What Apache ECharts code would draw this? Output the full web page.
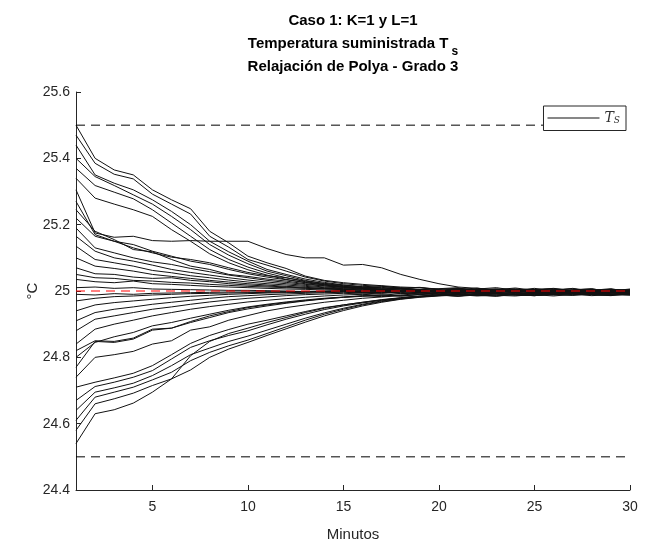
<!DOCTYPE html>
<html>
<head>
<meta charset="utf-8">
<title>Caso 1: K=1 y L=1</title>
<script src="https://cdn.jsdelivr.net/npm/echarts@6/dist/echarts.min.js"></script>
<style>
  html, body { margin: 0; padding: 0; background: #fff; }
  #chart { width: 650px; height: 547px; }
</style>
</head>
<body>
<div id="chart"></div>
<script>
// minutos 1..30
const tiempos = [1, 2, 3, 4, 5, 6, 7, 8, 9, 10, 11, 12, 13, 14, 15, 16, 17, 18, 19, 20, 21, 22, 23, 24, 25, 26, 27, 28, 29, 30]
const ticksX = [5, 10, 15, 20, 25, 30]
const limites = [25.5, 24.5]
const referencia = 25

// temperatura suministrada Ts, una trayectoria por condicion inicial
const trayectorias = [
  [25.500,25.400,25.365,25.350,25.305,25.275,25.248,25.180,25.145,25.105,25.085,25.068,25.045,25.032,25.025,25.020,25.016,25.012,25.010,25.006,25.008,25.003,25.006,24.998,25.004,25.008,25.001,24.995,25.005,25.002],
  [25.470,25.385,25.352,25.338,25.292,25.262,25.232,25.165,25.132,25.095,25.078,25.060,25.042,25.030,25.022,25.017,25.014,25.009,25.011,25.004,24.996,25.006,25.010,25.002,24.993,25.004,25.007,24.998,25.000,25.006],
  [25.440,25.350,25.325,25.305,25.275,25.240,25.200,25.150,25.118,25.090,25.065,25.050,25.036,25.026,25.018,25.013,25.015,25.008,25.004,25.007,25.010,24.997,25.004,25.009,25.002,24.994,25.003,25.007,24.996,25.001],
  [25.400,25.345,25.318,25.290,25.262,25.225,25.185,25.140,25.108,25.082,25.060,25.046,25.032,25.022,25.016,25.012,25.008,25.010,25.003,25.001,25.007,25.004,24.995,25.002,25.008,25.000,24.993,25.004,25.003,24.996],
  [25.370,25.318,25.298,25.278,25.245,25.205,25.165,25.125,25.095,25.072,25.054,25.040,25.028,25.020,25.014,25.009,25.011,25.006,25.002,24.998,25.004,25.009,25.001,24.994,25.005,25.006,24.998,25.002,25.007,24.997],
  [25.340,25.280,25.262,25.245,25.225,25.185,25.150,25.112,25.085,25.064,25.048,25.035,25.025,25.018,25.012,25.008,25.004,25.007,25.001,25.003,24.996,25.002,25.006,25.004,24.997,25.001,25.008,25.000,24.995,25.002],
  [25.305,25.175,25.162,25.165,25.152,25.150,25.152,25.150,25.150,25.150,25.128,25.110,25.100,25.100,25.078,25.080,25.070,25.050,25.035,25.022,25.012,25.008,25.004,25.006,25.001,24.998,25.004,25.006,25.000,25.003],
  [25.270,25.170,25.150,25.130,25.115,25.102,25.095,25.085,25.070,25.056,25.046,25.040,25.030,25.023,25.018,25.012,25.009,25.006,25.010,25.003,24.999,25.005,25.002,24.996,25.003,25.007,25.001,24.997,25.004,25.000],
  [25.245,25.180,25.155,25.125,25.118,25.095,25.075,25.065,25.050,25.044,25.036,25.030,25.022,25.016,25.011,25.008,25.004,25.007,25.001,24.996,25.002,25.006,24.999,25.003,25.005,24.996,25.001,25.005,24.999,24.997],
  [25.220,25.165,25.150,25.140,25.120,25.105,25.090,25.080,25.065,25.052,25.042,25.034,25.026,25.019,25.014,25.010,25.006,25.003,25.005,25.000,25.004,24.997,25.002,25.006,24.998,25.003,24.995,25.002,25.005,25.000],
  [25.190,25.130,25.115,25.100,25.088,25.080,25.068,25.058,25.048,25.040,25.032,25.026,25.020,25.015,25.011,25.008,25.005,25.002,24.999,25.003,25.006,25.000,24.996,25.001,25.004,25.002,24.998,24.996,25.002,25.004],
  [25.165,25.120,25.100,25.090,25.078,25.065,25.056,25.048,25.040,25.033,25.027,25.022,25.017,25.012,25.009,25.006,25.003,25.000,25.004,25.001,24.997,24.999,25.004,25.001,24.995,25.000,25.003,25.001,24.997,25.002],
  [25.135,25.095,25.085,25.075,25.062,25.055,25.046,25.040,25.033,25.027,25.022,25.018,25.014,25.010,25.007,25.005,25.002,24.999,25.001,24.997,25.002,25.004,24.998,24.996,25.001,25.004,24.999,25.002,25.001,24.996],
  [25.100,25.075,25.068,25.060,25.050,25.044,25.038,25.032,25.027,25.022,25.018,25.014,25.011,25.008,25.006,25.003,25.000,25.002,24.998,24.996,25.000,25.003,25.001,24.997,24.999,25.002,25.000,24.996,25.001,25.003],
  [25.070,25.052,25.050,25.042,25.038,25.040,25.032,25.028,25.022,25.018,25.015,25.012,25.009,25.007,25.005,25.002,24.999,24.997,25.000,25.002,24.998,24.995,25.001,25.003,24.999,24.997,25.002,25.000,24.998,25.001],
  [25.050,25.040,25.038,25.032,25.030,25.026,25.024,25.020,25.017,25.014,25.012,25.010,25.008,25.006,25.004,25.002,25.003,25.000,24.997,25.001,25.003,24.999,24.997,25.002,25.000,24.996,25.000,25.003,25.001,24.998],
  [25.035,25.028,25.025,25.030,25.022,25.020,25.017,25.014,25.012,25.010,25.008,25.006,25.005,25.003,25.002,24.999,25.001,24.998,24.995,24.999,25.001,24.998,24.996,25.000,25.002,24.998,24.996,25.001,25.002,24.999],
  [25.010,25.012,25.008,25.010,25.006,25.005,25.004,25.003,25.002,25.002,25.001,25.000,24.998,24.999,25.001,24.997,24.995,24.999,25.001,24.998,24.996,25.000,25.002,24.999,24.997,24.999,25.001,24.998,24.997,25.000],
  [24.990,24.988,24.992,24.990,24.993,24.994,24.995,24.996,24.997,24.997,24.998,24.998,24.999,24.999,25.000,24.998,25.001,24.999,24.996,25.000,25.002,24.999,24.997,25.000,25.001,24.998,24.997,25.000,25.001,24.999],
  [24.970,24.978,24.983,24.985,24.988,24.990,24.992,24.993,24.994,24.995,24.996,24.997,24.998,24.998,24.999,24.996,24.999,25.001,24.998,24.995,24.999,25.002,24.999,24.996,24.998,25.001,24.999,24.996,24.999,25.001],
  [24.940,24.958,24.965,24.970,24.975,24.980,24.984,24.987,24.990,24.992,24.994,24.995,24.996,24.997,24.998,24.995,24.993,24.997,25.000,24.997,24.994,24.998,25.001,24.998,24.995,24.999,25.001,24.997,24.995,24.998],
  [24.910,24.935,24.945,24.952,24.960,24.966,24.972,24.978,24.983,24.986,24.989,24.991,24.993,24.995,24.996,24.994,24.997,24.992,24.995,24.999,24.996,24.992,24.997,25.000,24.996,24.993,24.998,25.000,24.996,24.994],
  [24.880,24.915,24.925,24.935,24.945,24.952,24.960,24.967,24.973,24.978,24.982,24.986,24.989,24.991,24.993,24.991,24.994,24.996,24.991,24.994,24.998,24.995,24.991,24.996,24.999,24.995,24.992,24.997,24.999,24.995],
  [24.840,24.885,24.900,24.912,24.925,24.935,24.945,24.953,24.960,24.967,24.972,24.977,24.981,24.985,24.988,24.990,24.987,24.992,24.995,24.990,24.993,24.997,24.993,24.990,24.995,24.998,24.994,24.991,24.996,24.998],
  [24.820,24.850,24.848,24.858,24.885,24.888,24.905,24.920,24.935,24.946,24.955,24.963,24.970,24.976,24.981,24.985,24.988,24.985,24.990,24.994,24.989,24.992,24.996,24.992,24.989,24.994,24.997,24.993,24.990,24.995],
  [24.800,24.845,24.862,24.875,24.895,24.905,24.918,24.930,24.942,24.952,24.960,24.967,24.973,24.978,24.982,24.986,24.983,24.988,24.992,24.988,24.991,24.995,24.991,24.988,24.993,24.996,24.992,24.989,24.994,24.997],
  [24.770,24.848,24.845,24.855,24.882,24.888,24.908,24.925,24.938,24.950,24.958,24.965,24.971,24.977,24.981,24.984,24.988,24.985,24.989,24.993,24.990,24.987,24.992,24.995,24.991,24.988,24.993,24.996,24.992,24.990],
  [24.740,24.800,24.808,24.818,24.840,24.850,24.882,24.892,24.912,24.926,24.940,24.950,24.958,24.966,24.972,24.978,24.982,24.986,24.983,24.988,24.992,24.988,24.985,24.990,24.994,24.990,24.987,24.992,24.995,24.991],
  [24.710,24.725,24.738,24.752,24.775,24.808,24.842,24.866,24.884,24.900,24.912,24.925,24.938,24.950,24.958,24.966,24.974,24.980,24.985,24.988,24.984,24.988,24.992,24.989,24.986,24.991,24.994,24.990,24.988,24.993],
  [24.670,24.712,24.725,24.740,24.760,24.795,24.830,24.850,24.866,24.880,24.898,24.915,24.930,24.944,24.955,24.964,24.972,24.978,24.984,24.987,24.991,24.987,24.984,24.990,24.993,24.989,24.987,24.992,24.994,24.990],
  [24.640,24.695,24.708,24.722,24.745,24.775,24.808,24.828,24.848,24.864,24.882,24.900,24.918,24.934,24.948,24.960,24.970,24.977,24.983,24.987,24.985,24.990,24.993,24.988,24.986,24.991,24.993,24.989,24.986,24.992],
  [24.610,24.680,24.695,24.710,24.732,24.755,24.790,24.815,24.835,24.852,24.872,24.892,24.912,24.930,24.945,24.958,24.968,24.976,24.982,24.986,24.989,24.985,24.988,24.992,24.989,24.985,24.990,24.993,24.989,24.987],
  [24.580,24.660,24.675,24.692,24.715,24.735,24.762,24.800,24.825,24.845,24.866,24.886,24.906,24.925,24.941,24.955,24.966,24.975,24.981,24.985,24.988,24.991,24.987,24.985,24.990,24.993,24.990,24.986,24.989,24.992],
  [24.540,24.630,24.642,24.662,24.695,24.735,24.805,24.848,24.872,24.888,24.905,24.920,24.935,24.948,24.958,24.966,24.973,24.979,24.984,24.988,24.985,24.989,24.992,24.988,24.986,24.990,24.993,24.989,24.987,24.991]
]

const fuente = "'Liberation Sans', Arial, Helvetica, sans-serif"
const serif = "'DejaVu Serif', 'Liberation Serif', serif"
const gris = '#262626'
const xIni = tiempos[0]
const xFin = tiempos[tiempos.length - 1]

const chart = echarts.init(document.getElementById('chart'), null, { renderer: 'canvas' })

const seriesTs = trayectorias.map(fila => ({
  type: 'line',
  name: 'Ts',
  data: tiempos.map((t, i) => [t, fila[i]]),
  symbol: 'none',
  silent: true,
  lineStyle: { color: '#111', width: 1 },
  itemStyle: { color: '#111' },
  z: 2
}))

// lineas horizontales discontinuas (limites en negro, referencia en rojo)
const horizontal = (valor, color, z) => ({
  type: 'line',
  name: 'h' + valor,
  data: [[xIni, valor], [xFin, valor]],
  symbol: 'none',
  silent: true,
  lineStyle: { color: color, width: 1, type: [9, 6] },
  z: z
})

const option = {
  animation: false,
  backgroundColor: '#fff',
  title: [
    {
      text: 'Caso 1: K=1 y L=1',
      left: 353, top: 13, textAlign: 'center', padding: 0,
      textStyle: { fontFamily: fuente, fontSize: 15, fontWeight: 'bold', color: '#000' }
    },
    {
      text: '{a|Temperatura suministrada T}{s|s}',
      left: 353, top: 36, textAlign: 'center', padding: 0,
      textStyle: {
        fontFamily: fuente, fontSize: 15, fontWeight: 'bold', color: '#000',
        rich: {
          a: { fontFamily: fuente, fontSize: 15, fontWeight: 'bold', color: '#000', lineHeight: 18, verticalAlign: 'top' },
          s: { fontFamily: fuente, fontSize: 12, fontWeight: 'bold', color: '#000', lineHeight: 18, verticalAlign: 'top', padding: [10, 0, 0, 3] }
        }
      }
    },
    {
      text: 'Relajación de Polya - Grado 3',
      left: 353, top: 59, textAlign: 'center', padding: 0,
      textStyle: { fontFamily: fuente, fontSize: 15, fontWeight: 'bold', color: '#000' }
    }
  ],
  legend: {
    data: ['Ts'],
    right: 24,
    top: 106,
    orient: 'horizontal',
    icon: 'rect',
    itemWidth: 52,
    itemHeight: 1,
    itemGap: 4,
    padding: [5, 6, 5, 4],
    backgroundColor: '#fff',
    borderColor: gris,
    borderWidth: 1,
    borderRadius: 0,
    selectedMode: false,
    itemStyle: { color: '#111' },
    formatter: () => '{t|T}{s|S}',
    textStyle: {
      rich: {
        t: { fontFamily: serif, fontStyle: 'italic', fontSize: 14, color: '#333' },
        s: { fontFamily: serif, fontStyle: 'italic', fontSize: 9, color: '#333', padding: [6, 0, 0, 0] }
      }
    }
  },
  grid: { left: 76, right: 20, top: 92, bottom: 56, containLabel: false },
  xAxis: {
    type: 'value',
    min: 1,
    max: 30,
    name: 'Minutos',
    nameLocation: 'middle',
    nameGap: 37,
    nameMoveOverlap: false,
    nameTextStyle: { fontFamily: fuente, fontSize: 15, color: gris },
    axisLine: { onZero: false, lineStyle: { color: gris, width: 1 } },
    axisTick: { show: true, inside: true, length: 5, customValues: ticksX, lineStyle: { color: gris } },
    axisLabel: { customValues: ticksX, fontFamily: fuente, fontSize: 14, color: gris, margin: 10 },
    splitLine: { show: false }
  },
  yAxis: {
    type: 'value',
    min: 24.4,
    max: 25.6,
    interval: 0.2,
    name: '°C',
    nameLocation: 'middle',
    nameGap: 36,
    nameMoveOverlap: false,
    nameRotate: 90,
    nameTextStyle: { fontFamily: fuente, fontSize: 15, color: gris },
    axisLine: { show: true, onZero: false, lineStyle: { color: gris, width: 1 } },
    axisTick: { show: true, inside: true, length: 5, lineStyle: { color: gris } },
    axisLabel: {
      fontFamily: fuente, fontSize: 14, color: gris, margin: 6,
      formatter: v => String(+v.toFixed(1))
    },
    splitLine: { show: false }
  },
  series: [
    ...seriesTs,
    ...limites.map(v => horizontal(v, '#000', 3)),
    horizontal(referencia, '#ff0000', 5)
  ]
}

chart.setOption(option)

window.addEventListener('resize', () => chart.resize())
</script>
</body>
</html>
